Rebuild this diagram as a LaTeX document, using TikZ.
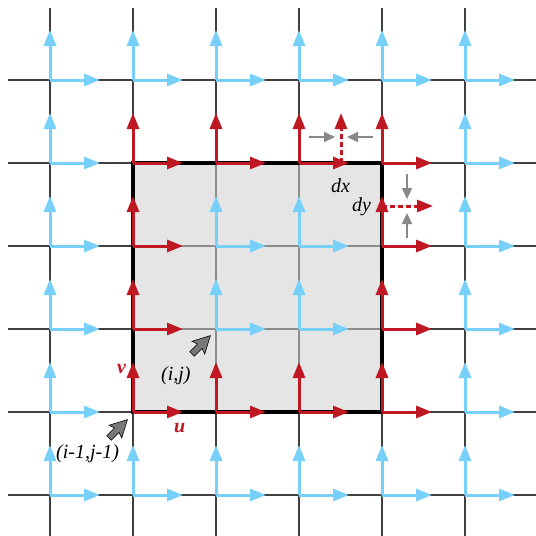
\documentclass[tikz,border=0pt]{standalone}
\usepackage{fontspec}
\setmainfont{Liberation Serif}
\usetikzlibrary{arrows.meta}
\definecolor{redc}{RGB}{192,24,34}
\definecolor{bluec}{RGB}{118,208,250}
\definecolor{gridc}{RGB}{64,64,64}
\definecolor{gridin}{RGB}{140,140,140}
\definecolor{sqfill}{RGB}{229,229,229}
\definecolor{ptrc}{RGB}{120,120,120}
\definecolor{smallg}{RGB}{136,136,136}
\tikzset{
  gridline/.style={line width=1.3pt, draw=gridc},
  gridinner/.style={line width=1.3pt, draw=gridin},
  flow/.style={line width=3pt, -{Triangle[length=16pt,width=12pt]}},
  dflow/.style={flow, draw=redc, fill=redc, dash pattern=on 5pt off 3pt},
  small/.style={line width=2.2pt, draw=smallg, -{Triangle[length=11pt,width=10pt]}, smallg},
  lab/.style={inner sep=0pt, anchor=base west, font=\fontsize{20}{23}\selectfont\itshape},
  redlab/.style={lab, text=redc, font=\fontsize{20}{23}\selectfont\bfseries\itshape},
  pointer/.style={fill=ptrc, draw=black, line width=0.6pt, line join=miter}
}
\newcommand\mypointer[2]{%
  \begin{scope}[shift={(#1,#2)}]
  \begin{scope}[x={(0.7071pt,0.7071pt)}, y={(-0.7071pt,0.7071pt)}]
    \draw[pointer] (0,-3.2) -- (11,-3.2) -- (9,-9) -- (26,0) -- (9,9) -- (11,3.2) -- (0,3.2) -- cycle;
  \end{scope}
  \end{scope}}
\begin{document}
\begin{tikzpicture}[x=1pt,y=-1pt]
\fill[white] (0,0) rectangle (536,536);
\useasboundingbox (0,0) rectangle (536,536);
% grid points
\foreach \i in {0,...,5}{
  \foreach \j in {0,...,5}{
    \pgfmathsetmacro\px{50+83*\i}
    \pgfmathsetmacro\py{80+83*\j}
    \coordinate (p-\i-\j) at (\px,\py);
  }
}
% grid lines
\foreach \i in {0,...,5}{
  \draw[gridline] (p-\i-0 |- 0,8) -- (p-\i-0 |- 0,536);
  \draw[gridline] (p-0-\i -| 8,0) -- (p-0-\i -| 536,0);
}
% square
\fill[sqfill] (p-1-1) rectangle (p-4-4);
\foreach \k in {2,3}{
  \draw[gridinner] (p-\k-1) -- (p-\k-4);
  \draw[gridinner] (p-1-\k) -- (p-4-\k);
}
\draw[line width=4.5pt, line join=miter] (p-1-1) rectangle (p-4-4);
% flux arrows
\foreach \i in {0,...,5}{
  \foreach \j in {0,...,5}{
    \pgfmathtruncatemacro\isred{and(and(\i>=1,\i<=4),and(and(\j>=1,\j<=4),or(or(\i==1,\i==4),or(\j==1,\j==4))))}
    \ifnum\isred=1 \def\col{redc}\else\def\col{bluec}\fi
    \draw[flow, draw=\col, fill=\col] (p-\i-\j) -- ++(0,-50);
    \draw[flow, draw=\col, fill=\col] (p-\i-\j) -- ++(50,0);
  }
}
% dashed arrows
\draw[dflow] (341,163) -- (341,113);
\draw[dflow] (382,206) -- (433,206);
% small gray arrows
\draw[small] (309,137) -- (335,137);
\draw[small] (373,137) -- (347,137);
\draw[small] (407,174) -- (407,199);
\draw[small] (407,238) -- (407,213);
% pointers
\mypointer{192}{354}
\mypointer{109}{438}
% labels
\node[lab] (lij) at (161,380) {(i,j)};
\node[lab] (lij1) at (56,458) {(i-1,j-1)};
\node[redlab] (lv) at (117,373) {v};
\node[redlab] (lu) at (174,432) {u};
\node[lab] (ldx) at (331,192) {dx};
\node[lab] (ldy) at (352,211) {dy};
\end{tikzpicture}
\end{document}
